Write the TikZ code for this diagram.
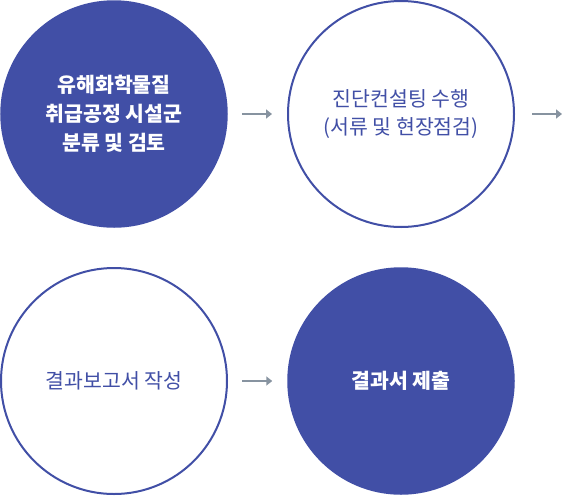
\documentclass[tikz,border=0pt]{standalone}
\usepackage{fontspec}
\setmainfont{Noto Sans CJK KR}
\usetikzlibrary{arrows.meta, positioning, calc}
\definecolor{stepblue}{HTML}{414FA6}
\definecolor{arrgray}{HTML}{8793A0}

\begin{document}
\begin{tikzpicture}[
  x=1pt, y=-1pt,
  >={Triangle[length=6pt, width=9pt]},
  fullstep/.style={
    circle, draw=stepblue, fill=stepblue, line width=1.5pt,
    minimum size=226pt, inner sep=0pt, text=white, align=center,
    font=\fontsize{20.5}{29}\selectfont\bfseries
  },
  openstep/.style={
    circle, draw=stepblue, fill=white, line width=2pt,
    minimum size=226pt, inner sep=0pt, text=stepblue, align=center,
    font=\fontsize{20.5}{28}\selectfont
  },
  arr/.style={->, line width=2.4pt, arrgray},
]

% Frame
\useasboundingbox (0,0) rectangle (562,496);

% =============================================
% Steps
% =============================================
\node[fullstep] (sort) at (114,114)
  {유해화학물질\\취급공정 시설군\\분류 및 검토};

\node[openstep] (consult) at (401,114)
  {진단컨설팅 수행\\(서류 및 현장점검)};

\node[openstep] (report) at (114,381)
  {결과보고서 작성};

\node[fullstep] (submit) at (401,381)
  {결과서 제출};

\coordinate (next) at (562,114);

% =============================================
% Arrows
% =============================================
\draw[arr] ([xshift=14pt]sort.east) -- ([xshift=-15pt]consult.west);
\draw[arr] ([xshift=17pt]consult.east) -- (next);
\draw[arr] ([xshift=14pt]report.east) -- ([xshift=-15pt]submit.west);

\end{tikzpicture}
\end{document}
